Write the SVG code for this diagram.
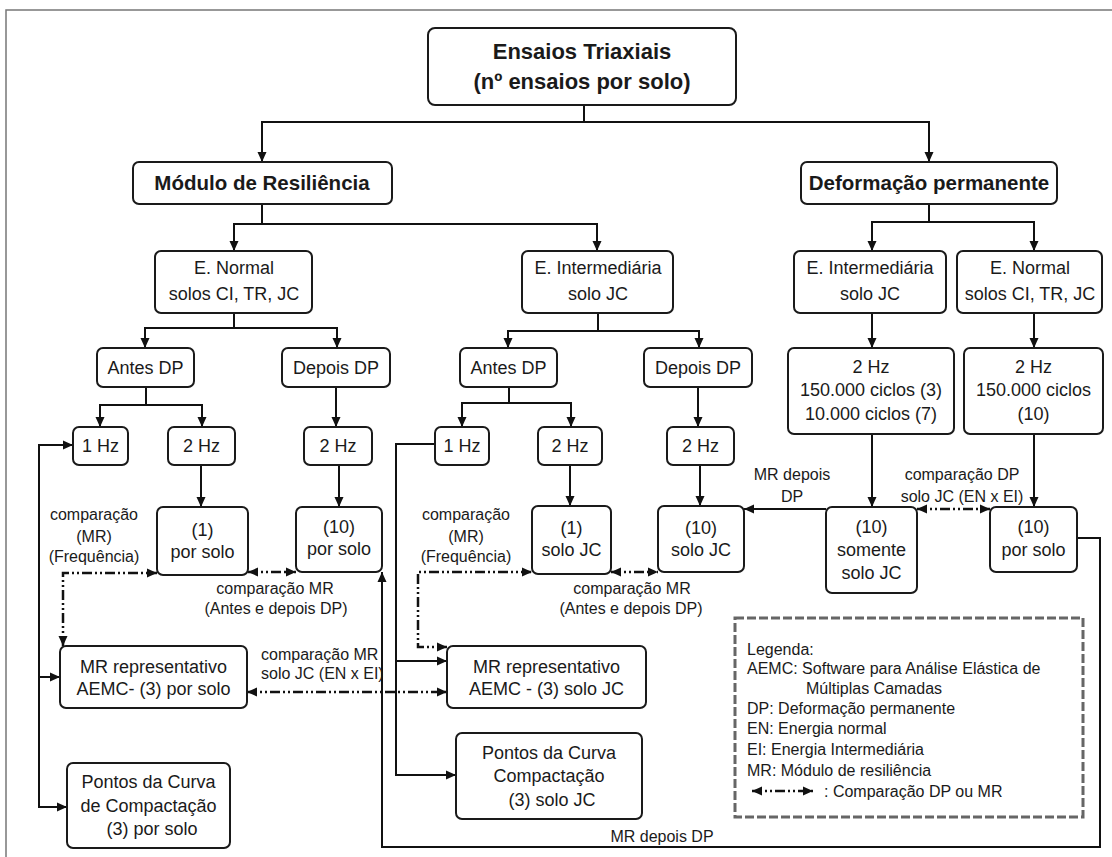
<svg xmlns="http://www.w3.org/2000/svg" width="1112" height="857" viewBox="0 0 1112 857">
<defs>
<style>
.box{fill:#fff;stroke:#1a1a1a;stroke-width:2}
.t{font-family:"Liberation Sans",Arial,sans-serif;font-size:18px;fill:#1a1a1a;text-anchor:middle}
.tb{font-family:"Liberation Sans",Arial,sans-serif;font-weight:bold;fill:#1a1a1a;text-anchor:middle}
.l{font-family:"Liberation Sans",Arial,sans-serif;font-size:16px;fill:#1a1a1a;text-anchor:middle}
.ls{font-family:"Liberation Sans",Arial,sans-serif;font-size:16px;fill:#1a1a1a}
.c{fill:none;stroke:#111;stroke-width:2}
.dd{fill:none;stroke:#111;stroke-width:2.5;stroke-dasharray:10 3 2 3 2 3}
</style>
<marker id="ah" markerUnits="userSpaceOnUse" markerWidth="10" markerHeight="10" refX="10" refY="5" orient="auto-start-reverse">
<path d="M0,0.5 L10,5 L0,9.5 z" fill="#111"/>
</marker>
</defs>
<rect x="0" y="0" width="1112" height="857" fill="#fff"/>
<rect x="6" y="10" width="1200" height="900" fill="none" stroke="#777" stroke-width="1.5"/>

<g id="connectors">
<path class="c" d="M584,105 V122"/>
<path class="c" d="M262,162 V122 H929 V162" marker-start="url(#ah)" marker-end="url(#ah)"/>
<path class="c" d="M262,204 V224"/>
<path class="c" d="M234,251 V224 H597 V251" marker-start="url(#ah)" marker-end="url(#ah)"/>
<path class="c" d="M929,204 V222"/>
<path class="c" d="M872,251 V222 H1034 V251" marker-start="url(#ah)" marker-end="url(#ah)"/>
<path class="c" d="M234,313 V328"/>
<path class="c" d="M145,348 V328 H337 V348" marker-start="url(#ah)" marker-end="url(#ah)"/>
<path class="c" d="M146,387 V405"/>
<path class="c" d="M100,427 V405 H202 V427" marker-start="url(#ah)" marker-end="url(#ah)"/>
<path class="c" d="M336,387 V427" marker-end="url(#ah)"/>
<path class="c" d="M201,465 V507" marker-end="url(#ah)"/>
<path class="c" d="M339,465 V507" marker-end="url(#ah)"/>
<path class="c" d="M598,313 V331"/>
<path class="c" d="M508,348 V331 H699 V348" marker-start="url(#ah)" marker-end="url(#ah)"/>
<path class="c" d="M509,387 V403"/>
<path class="c" d="M462,427 V403 H571 V427" marker-start="url(#ah)" marker-end="url(#ah)"/>
<path class="c" d="M698,387 V427" marker-end="url(#ah)"/>
<path class="c" d="M570,465 V506" marker-end="url(#ah)"/>
<path class="c" d="M700,465 V506" marker-end="url(#ah)"/>
<path class="c" d="M73,445 H39 V807 H67" marker-start="url(#ah)" marker-end="url(#ah)"/>
<path class="c" d="M39,677 H60" marker-end="url(#ah)"/>
<path class="c" d="M435,444 H396 V775 H456" marker-end="url(#ah)"/>
<path class="c" d="M396,661 H447" marker-end="url(#ah)"/>
<path class="c" d="M872,313 V348" marker-end="url(#ah)"/>
<path class="c" d="M1034,313 V348" marker-end="url(#ah)"/>
<path class="c" d="M872,434 V507" marker-end="url(#ah)"/>
<path class="c" d="M1034,434 V507" marker-end="url(#ah)"/>
<path class="c" d="M826,509 H744" marker-end="url(#ah)"/>
<path class="c" d="M1077,538 H1100 V847 H382 V572" marker-end="url(#ah)"/>
<path class="dd" d="M63,646 V573 H157" marker-start="url(#ah)" marker-end="url(#ah)"/>
<path class="dd" d="M248,572 H296" marker-start="url(#ah)" marker-end="url(#ah)"/>
<path class="dd" d="M447,647 H418 V572 H532" marker-start="url(#ah)" marker-end="url(#ah)"/>
<path class="dd" d="M611,572 H658" marker-start="url(#ah)" marker-end="url(#ah)"/>
<path class="dd" d="M917,509 H990" marker-start="url(#ah)" marker-end="url(#ah)"/>
<path class="dd" d="M247,692 H447" marker-start="url(#ah)" marker-end="url(#ah)"/>
</g>

<g id="labels">
<text class="l" x="94" y="520">comparação</text>
<text class="l" x="94" y="542">(MR)</text>
<text class="l" x="94" y="562">(Frequência)</text>
<text class="l" x="466" y="520">comparação</text>
<text class="l" x="466" y="542">(MR)</text>
<text class="l" x="466" y="562">(Frequência)</text>
<text class="l" x="275" y="594">comparação MR</text>
<text class="l" x="276" y="614">(Antes  e depois DP)</text>
<text class="l" x="632" y="594">comparação MR</text>
<text class="l" x="631" y="614">(Antes  e depois DP)</text>
<text class="ls" x="261" y="660">comparação MR</text>
<text class="ls" x="261" y="679">solo  JC (EN x EI)</text>
<text class="l" x="792" y="480">MR depois</text>
<text class="l" x="792" y="502">DP</text>
<text class="l" x="962" y="480">comparação DP</text>
<text class="l" x="962" y="502">solo JC (EN x EI)</text>
<text class="l" x="662" y="842">MR depois DP</text>
</g>

<g id="n-top"><rect class="box" x="428" y="28" width="308" height="77" rx="7"/>
<text class="tb" x="582" y="59" font-size="22">Ensaios Triaxiais</text>
<text class="tb" x="582" y="89" font-size="22">(nº ensaios por solo)</text></g>
<g id="n-mr"><rect class="box" x="133" y="162" width="259" height="42" rx="6"/>
<text class="tb" x="262" y="190" font-size="20.5">Módulo de Resiliência</text></g>
<g id="n-dp"><rect class="box" x="801" y="162" width="256" height="42" rx="6"/>
<text class="tb" x="929" y="190" font-size="20.5">Deformação permanente</text></g>

<g id="n-en1"><rect class="box" x="155" y="251" width="157" height="62" rx="6"/>
<text class="t" x="234" y="274">E. Normal</text><text class="t" x="234" y="300">solos CI, TR, JC</text></g>
<g id="n-ei1"><rect class="box" x="522" y="251" width="151" height="62" rx="6"/>
<text class="t" x="598" y="274">E. Intermediária</text><text class="t" x="598" y="300">solo JC</text></g>
<g id="n-ei2"><rect class="box" x="794" y="251" width="152" height="62" rx="6"/>
<text class="t" x="870" y="274">E. Intermediária</text><text class="t" x="870" y="300">solo JC</text></g>
<g id="n-en2"><rect class="box" x="957" y="251" width="145" height="62" rx="6"/>
<text class="t" x="1030" y="274">E. Normal</text><text class="t" x="1030" y="300">solos CI, TR, JC</text></g>

<g id="n-antes1"><rect class="box" x="97" y="348" width="97" height="39" rx="6"/><text class="t" x="145.5" y="374">Antes DP</text></g>
<g id="n-depois1"><rect class="box" x="282" y="348" width="108" height="39" rx="6"/><text class="t" x="336" y="374">Depois DP</text></g>
<g id="n-antes2"><rect class="box" x="460" y="348" width="97" height="39" rx="6"/><text class="t" x="508.5" y="374">Antes DP</text></g>
<g id="n-depois2"><rect class="box" x="644" y="348" width="108" height="39" rx="6"/><text class="t" x="698" y="374">Depois DP</text></g>

<g id="n-1hz1"><rect class="box" x="73" y="427" width="55" height="38" rx="6"/><text class="t" x="100.5" y="452">1 Hz</text></g>
<g id="n-2hz1"><rect class="box" x="168" y="427" width="67" height="38" rx="6"/><text class="t" x="201.5" y="452">2 Hz</text></g>
<g id="n-2hz2"><rect class="box" x="304" y="427" width="68" height="38" rx="6"/><text class="t" x="338" y="452">2 Hz</text></g>
<g id="n-1hz3"><rect class="box" x="435" y="427" width="54" height="38" rx="6"/><text class="t" x="462" y="452">1 Hz</text></g>
<g id="n-2hz3"><rect class="box" x="538" y="427" width="64" height="38" rx="6"/><text class="t" x="570" y="452">2 Hz</text></g>
<g id="n-2hz4"><rect class="box" x="667" y="427" width="67" height="38" rx="6"/><text class="t" x="700.5" y="452">2 Hz</text></g>

<g id="n-2hz5"><rect class="box" x="788" y="348" width="166" height="86" rx="6"/>
<text class="t" x="871" y="373">2 Hz</text><text class="t" x="871" y="396">150.000 ciclos (3)</text><text class="t" x="871" y="420">10.000 ciclos (7)</text></g>
<g id="n-2hz6"><rect class="box" x="964" y="348" width="139" height="86" rx="6"/>
<text class="t" x="1033.5" y="373">2 Hz</text><text class="t" x="1033.5" y="396">150.000 ciclos</text><text class="t" x="1033.5" y="420">(10)</text></g>

<g id="n-r1"><rect class="box" x="157" y="507" width="91" height="68" rx="6"/>
<text class="t" x="202.5" y="536">(1)</text><text class="t" x="202.5" y="558">por solo</text></g>
<g id="n-r10"><rect class="box" x="296" y="507" width="86" height="65" rx="6"/>
<text class="t" x="339" y="533">(10)</text><text class="t" x="339" y="555">por solo</text></g>
<g id="n-r1jc"><rect class="box" x="532" y="506" width="79" height="68" rx="6"/>
<text class="t" x="571.5" y="534">(1)</text><text class="t" x="571.5" y="556">solo JC</text></g>
<g id="n-r10jc"><rect class="box" x="658" y="506" width="86" height="66" rx="6"/>
<text class="t" x="701" y="534">(10)</text><text class="t" x="701" y="556">solo JC</text></g>
<g id="n-dp10jc"><rect class="box" x="826" y="507" width="91" height="86" rx="6"/>
<text class="t" x="871.5" y="533">(10)</text><text class="t" x="871.5" y="556">somente</text><text class="t" x="871.5" y="579">solo JC</text></g>
<g id="n-dp10"><rect class="box" x="990" y="507" width="87" height="65" rx="6"/>
<text class="t" x="1033.5" y="533">(10)</text><text class="t" x="1033.5" y="556">por solo</text></g>

<g id="n-mrrep1"><rect class="box" x="60" y="646" width="187" height="62" rx="6"/>
<text class="t" x="153.5" y="673">MR representativo</text><text class="t" x="153.5" y="695">AEMC- (3) por solo</text></g>
<g id="n-mrrep2"><rect class="box" x="447" y="646" width="199" height="62" rx="6"/>
<text class="t" x="546.5" y="673">MR representativo</text><text class="t" x="546.5" y="695">AEMC - (3) solo JC</text></g>
<g id="n-pc1"><rect class="box" x="67" y="763" width="163" height="85" rx="6"/>
<text class="t" x="148.5" y="788">Pontos da Curva</text><text class="t" x="148.5" y="812">de Compactação</text><text class="t" x="152" y="835">(3) por solo</text></g>
<g id="n-pc2"><rect class="box" x="456" y="733" width="186" height="86" rx="6"/>
<text class="t" x="549" y="759">Pontos da Curva</text><text class="t" x="549" y="782">Compactação</text><text class="t" x="552" y="806">(3) solo JC</text></g>

<g id="legend">
<rect x="735" y="618" width="348" height="199" fill="none" stroke="#666" stroke-width="3" stroke-dasharray="9 3"/>
<text class="ls" x="747" y="655">Legenda:</text>
<text class="ls" x="747" y="674">AEMC: Software para Análise Elástica de</text>
<text class="ls" x="806" y="694">Múltiplas Camadas</text>
<text class="ls" x="747" y="714">DP: Deformação permanente</text>
<text class="ls" x="747" y="734">EN: Energia normal</text>
<text class="ls" x="747" y="755">EI: Energia Intermediária</text>
<text class="ls" x="747" y="776">MR: Módulo de resiliência</text>
<path class="dd" d="M752,791 H813" marker-start="url(#ah)" marker-end="url(#ah)"/>
<text class="ls" x="824" y="797">: Comparação DP ou MR</text>
</g>
</svg>
